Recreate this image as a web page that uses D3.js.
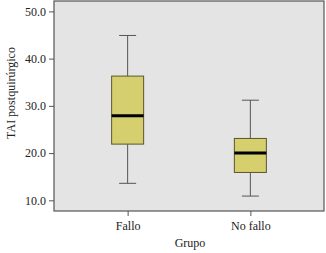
<!DOCTYPE html>
<html>
<head>
<meta charset="utf-8">
<script src="https://cdn.jsdelivr.net/npm/d3@7"></script>
<style>
  body { margin: 0; background: #fff; }
  text { font-family: "Liberation Serif", "DejaVu Serif", serif; fill: #222; }
</style>
</head>
<body>
<div id="chart"></div>
<script>
// boxplot stats
const groups = ['Fallo', 'No fallo'];
const whiskerLow = [13.6, 10.9];
const q1 = [21.9, 15.9];
const median = [27.9, 20.0];
const q3 = [36.3, 23.1];
const whiskerHigh = [44.9, 31.2];
const yTicks = [10, 20, 30, 40, 50];

const width = 326;
const height = 253;
const margin = { top: 1, right: 2, bottom: 42, left: 54 };
const innerW = width - margin.left - margin.right;
const innerH = height - margin.top - margin.bottom;

const svg = d3.select('#chart').append('svg')
  .attr('width', width)
  .attr('height', height);

const g = svg.append('g')
  .attr('transform', 'translate(' + margin.left + ',' + margin.top + ')');

const yScale = d3.scaleLinear()
  .domain([7.74, 52.2])
  .range([innerH, 0]);

const xScale = d3.scalePoint()
  .domain(groups)
  .range([0, innerW])
  .padding(0.6);

// plot background
g.append('rect')
  .attr('width', innerW)
  .attr('height', innerH)
  .attr('fill', '#e4e4e4');

const boxW = 32;
const capW = 17;

groups.forEach(function (name, i) {
  const cx = xScale(name);
  const box = g.append('g');

  box.append('line')
    .attr('x1', cx).attr('x2', cx)
    .attr('y1', yScale(whiskerHigh[i])).attr('y2', yScale(q3[i]))
    .attr('stroke', '#555').attr('stroke-width', 1);
  box.append('line')
    .attr('x1', cx).attr('x2', cx)
    .attr('y1', yScale(q1[i])).attr('y2', yScale(whiskerLow[i]))
    .attr('stroke', '#555').attr('stroke-width', 1);

  [whiskerHigh[i], whiskerLow[i]].forEach(function (v) {
    box.append('line')
      .attr('x1', cx - capW / 2).attr('x2', cx + capW / 2)
      .attr('y1', yScale(v)).attr('y2', yScale(v))
      .attr('stroke', '#555').attr('stroke-width', 1);
  });

  box.append('rect')
    .attr('x', cx - boxW / 2)
    .attr('y', yScale(q3[i]))
    .attr('width', boxW)
    .attr('height', yScale(q1[i]) - yScale(q3[i]))
    .attr('fill', '#d6cf6d')
    .attr('stroke', '#5a5530')
    .attr('stroke-width', 1);

  box.append('line')
    .attr('x1', cx - boxW / 2).attr('x2', cx + boxW / 2)
    .attr('y1', yScale(median[i])).attr('y2', yScale(median[i]))
    .attr('stroke', '#000').attr('stroke-width', 3);
});

// frame
g.append('rect')
  .attr('width', innerW)
  .attr('height', innerH)
  .attr('fill', 'none')
  .attr('stroke', '#555')
  .attr('stroke-width', 1.2);

const yAxis = d3.axisLeft(yScale)
  .tickValues(yTicks)
  .tickFormat(d3.format('.1f'))
  .tickSize(5)
  .tickPadding(3);

const yG = g.append('g').attr('class', 'y axis').call(yAxis);

const xAxis = d3.axisBottom(xScale).tickSize(5).tickPadding(5);
const xG = g.append('g')
  .attr('class', 'x axis')
  .attr('transform', 'translate(0,' + innerH + ')')
  .call(xAxis);

[yG, xG].forEach(function (ax) {
  ax.select('.domain').remove();
  ax.selectAll('.tick line').attr('stroke', '#555');
  ax.selectAll('.tick text').attr('font-size', 12).attr('fill', '#222')
    .attr('font-family', '"Liberation Serif", serif');
});

// axis titles
svg.append('text')
  .attr('transform', 'translate(15,93) rotate(-90)')
  .attr('text-anchor', 'middle')
  .attr('font-size', 12)
  .text('TAI postquirúrgico');

svg.append('text')
  .attr('x', margin.left + innerW / 2 + 1)
  .attr('y', 247)
  .attr('text-anchor', 'middle')
  .attr('font-size', 12)
  .text('Grupo');
</script>
</body>
</html>
